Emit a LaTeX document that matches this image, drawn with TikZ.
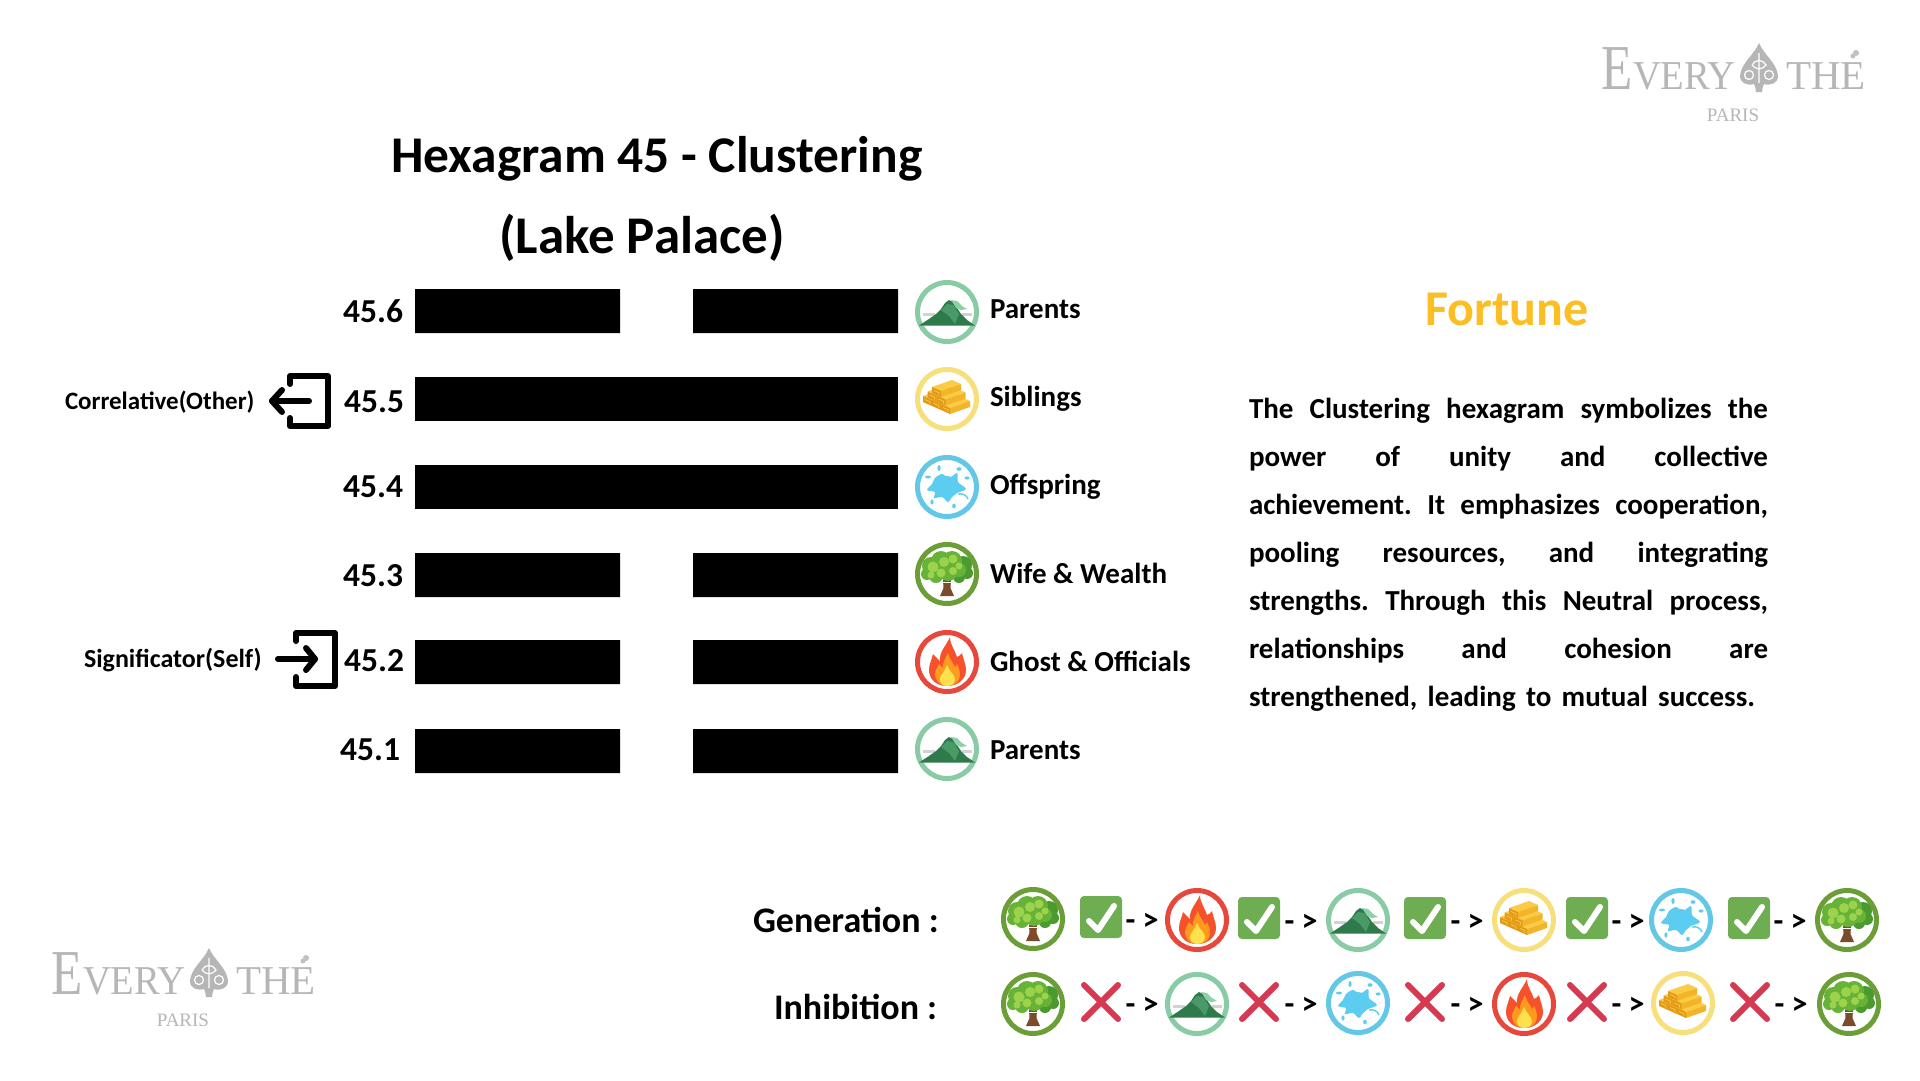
\documentclass[tikz,border=0pt]{standalone}
\usepackage{fontspec}
\setmainfont{Carlito}
\newfontfamily\logofont{Liberation Serif}
\definecolor{ringm}{HTML}{88CBA5}
\definecolor{ringg}{HTML}{F7DF7C}
\definecolor{rings}{HTML}{63C7E6}
\definecolor{ringt}{HTML}{6C9E38}
\definecolor{ringf}{HTML}{E8483C}
\definecolor{mdark}{HTML}{2F7A4B}
\definecolor{mmid}{HTML}{4A9A68}
\definecolor{mlight}{HTML}{8AD1A6}
\definecolor{goldtop}{HTML}{FBCB45}
\definecolor{goldside}{HTML}{F2B52A}
\definecolor{goldend}{HTML}{E39A16}
\definecolor{waterc}{HTML}{5CCDF0}
\definecolor{leafd}{HTML}{4A9A30}
\definecolor{leafm}{HTML}{66B338}
\definecolor{leafl}{HTML}{9CD24C}
\definecolor{bark}{HTML}{7B4B2A}
\definecolor{fireo}{HTML}{F4512C}
\definecolor{firem}{HTML}{FF9A1F}
\definecolor{firey}{HTML}{FFE14D}
\definecolor{okgreen}{HTML}{6FAD53}
\definecolor{nored}{HTML}{D63A52}
\definecolor{fortunec}{HTML}{FBBF24}
\definecolor{logoc}{HTML}{B6B6B6}
\newcommand{\ingot}[2]{%
  \fill[goldtop] (#1,#2-6) -- ++(9,4) -- ++(20,-7) -- ++(-9,-4) -- cycle;
  \fill[goldside] (#1+9,#2+4) -- ++(0,-6) -- ++(20,-7) -- ++(0,6) -- cycle;
  \fill[goldend] (#1,#2) -- ++(9,4) -- ++(0,-6) -- ++(-9,-4) -- cycle;
  \draw[goldtop,line width=.7pt] (#1+2,#2-2.5) -- ++(5,2.2) -- ++(0,2.5);
}
\newcommand{\fs}[1]{\fontsize{#1}{#1}\selectfont}
\tikzset{
  x=1pt,y=-1pt,
  ring/.style={line width=5pt,fill=white},
  bar/.style={fill=black},
  txt/.style={inner sep=0pt,outer sep=0pt,anchor=base west,font=\bfseries},
  txtr/.style={txt,anchor=base east},
  txtc/.style={txt,anchor=base},
  para/.style={txt,font=\bfseries\fs{29}\frenchspacing},
  role/.style={txt,font=\bfseries\fs{29}},
  num/.style={txtr,font=\bfseries\fs{33.5}},
  flow/.style={txtc,font=\bfseries\fs{32}},
  brk/.style={line width=6pt,line join=round,line cap=round},
  pics/mountain/.style={code={
    \draw[ringm,ring] (0,0) circle (29.5);
    \fill[gray!35] (-24,1) rectangle (-12,3.5);
    \fill[gray!35] (15,1) rectangle (25,3.5);
    \fill[mdark] (-28,13.5) -- (-18,7) -- (-11,2) -- (-6,-3) -- (-2,-9) -- (2,-12) -- (6,-10) -- (10,-4) -- (14,2) -- (20,8) -- (28,13.5) -- cycle;
    \fill[mlight] (4,-12) -- (10,-11) -- (15,-6) -- (20,-3) -- (14,-2) -- (9,-4) -- (6,-9) -- cycle;
    \fill[mmid] (-6,-2) -- (0,-8) -- (6,-7) -- (12,2) -- (8,12) -- (2,4) -- cycle;
  }},
  pics/gold/.style={code={
    \draw[ringg,ring] (0,0) circle (29.5);
    \ingot{-24}{3}
    \ingot{-15}{7}
    \ingot{-6}{11}
    \ingot{-19.5}{-1.5}
    \ingot{-10.5}{2.5}
    \ingot{-15}{-6}
  }},
  pics/splash/.style={code={
    \draw[rings,ring] (0,0) circle (29.5);
    \fill[waterc] plot[smooth cycle,tension=0.5] coordinates {(-5,-13) (2,-9) (10,-14) (11,-5) (19,2) (10,6) (5,10) (1,15) (-5,10) (-13,11) (-12,5) (-20,3) (-15,-3) (-12,-9)};
    \fill[waterc] (0,0) circle (11);
    \fill[waterc] (-8,-19) ellipse (1.6 and 3);
    \fill[waterc] (12,-18) ellipse (2.5 and 1.8);
    \fill[waterc] (20,-9) ellipse (2.5 and 1.6);
    \fill[waterc] (-19,-10) ellipse (3 and 1.4);
    \fill[waterc] (-15,15) ellipse (1.6 and 2.6);
    \fill[waterc] (7,19) ellipse (1.8 and 2.4);
    \draw[waterc,line width=1.4pt] (11,7) .. controls (15,6) and (20,8) .. (21,12);
  }},
  pics/tree/.style={code={
    \draw[ringt,ring] (0,0) circle (29.5);
    \fill[bark] (-4,6) -- (4,6) -- (3.5,14) -- (7,22) -- (-7,22) -- (-3.5,14) -- cycle;
    \fill[leafd] (16,-9) circle (9) (20,-1) circle (6) (12,3) circle (6);
    \fill[leafm] (-16,-8) circle (9) (-6,-13) circle (10) (5,-13) circle (10) (-20,0) circle (6) (-11,2) circle (7) (1,-3) circle (10) (12,-4) circle (7);
    \fill[leafl] (-14,-7) circle (5.5) (-3,-12) circle (5) (6,-15) circle (4.5) (-6,-1) circle (4.5) (12,-8) circle (3.5) (-16,1) circle (3.5) (6,-3) circle (4);
    \draw[white,line width=1pt] (-7,8) -- (7,8);
  }},
  pics/fire/.style={code={
    \draw[ringf,ring] (0,0) circle (29.5);
    \fill[fireo] (0,24) .. controls (-12,24) and (-18,16) .. (-18,8) .. controls (-18,2) and (-15,-3) .. (-14,-8) .. controls (-11,-5) and (-9,-3) .. (-7,-1) .. controls (-8,-10) and (-1,-16) .. (3,-25) .. controls (3,-17) and (8,-12) .. (10,-5) .. controls (12,-6) and (14,-7) .. (15,-9) .. controls (16,-3) and (19,2) .. (19,8) .. controls (19,17) and (11,24) .. (0,24) -- cycle;
    \fill[firem] (0,24) .. controls (-8,24) and (-12,18) .. (-12,12) .. controls (-12,8) and (-9,5) .. (-8,2) .. controls (-6,4) and (-5,5) .. (-4,6) .. controls (-5,2) and (-2,-3) .. (1,-9) .. controls (2,-3) and (6,0) .. (8,5) .. controls (9,4) and (10,3) .. (10,2) .. controls (12,6) and (13,9) .. (13,13) .. controls (13,19) and (8,24) .. (0,24) -- cycle;
    \fill[firey] (0,24) .. controls (-5,24) and (-7,20) .. (-7,17) .. controls (-7,13) and (-3,11) .. (0,3) .. controls (2,9) and (8,13) .. (8,17) .. controls (8,21) and (5,24) .. (0,24) -- cycle;
  }},
  pics/okbox/.style={code={
    \fill[okgreen,rounded corners=4pt] (-21,-21) rectangle (21,21);
    \draw[white,line width=6pt,line cap=round,line join=round] (-12,4) -- (-3,13) -- (13,-11);
  }},
  pics/nomark/.style={code={
    \draw[nored,line width=6pt,line cap=round] (-17,-17) -- (17,17) (-17,17) -- (17,-17);
  }},
  pics/brandmark/.style={code={
    \node[txt,text=logoc,font=\logofont\fs{64}] (-e) at (0,0) {\scalebox{.8}[1]{E}};
    \node[txt,text=logoc,font=\logofont\fs{41}] (-v) at (32,0) {\scalebox{.94}[1]{VERY}};
    \node[txt,text=logoc,font=\logofont\fs{41}] (-t) at (185,0) {THE};
    \node[txtc,text=logoc,font=\logofont\fs{19}] (-p) at (132,32) {PARIS};
    \fill[logoc] (158,-46) .. controls (153,-34) and (140,-26) .. (139,-13) .. controls (139,-6) and (146,-3) .. (153,-5) .. controls (154,-3) and (155,0) .. (155,3) -- (161,3) .. controls (161,0) and (162,-3) .. (163,-5) .. controls (170,-3) and (177,-6) .. (177,-13) .. controls (176,-26) and (163,-34) .. (158,-46) -- cycle;
    \draw[white,line width=1.2pt] (158,-36) -- (158,-6) (148,-14) circle (4.5) (168,-14) circle (4.5);
    \draw[white,line width=1.2pt] (151,-24) .. controls (154,-30) and (162,-30) .. (165,-24) .. controls (162,-19) and (154,-19) .. (151,-24);
    \fill[logoc!85] (255,-36) circle (3) (252,-33) circle (2.5);
  }},
}
\begin{document}
\begin{tikzpicture}
\useasboundingbox[fill=white] (0,0) rectangle (1920,1080);
% logos
\pic (logoa) at (1601,89) {brandmark};
\pic (logob) at (51,994) {brandmark};
% title
\node[txtc,font=\bfseries\fs{51.5}] (title) at (657,172) {Hexagram 45 - Clustering};
\node[txtc,font=\bfseries\fs{53}] (subtitle) at (642,253) {(Lake Palace)};
% bars
\fill[bar] (415,289) rectangle (620,333) (693,289) rectangle (898,333);
\fill[bar] (415,377) rectangle (898,421);
\fill[bar] (415,465) rectangle (898,509);
\fill[bar] (415,553) rectangle (620,597) (693,553) rectangle (898,597);
\fill[bar] (415,640) rectangle (620,684) (693,640) rectangle (898,684);
\fill[bar] (415,729) rectangle (620,773) (693,729) rectangle (898,773);
% line numbers
\node[num] (n6) at (403,322) {45.6};
\node[num] (n5) at (404,412) {45.5};
\node[num] (n4) at (403,497) {45.4};
\node[num] (n3) at (403,586) {45.3};
\node[num] (n2) at (404,671) {45.2};
\node[num] (n1) at (400,760) {45.1};
% relation icons and names
\pic at (947,312) {mountain};
\pic at (947,399) {gold};
\pic at (947,487) {splash};
\pic at (947,574) {tree};
\pic at (947,662) {fire};
\pic at (947,749) {mountain};
\node[role] (r6) at (990,318) {Parents};
\node[role] (r5) at (990,406) {Siblings};
\node[role] (r4) at (990,494) {Offspring};
\node[role] (r3) at (990,583) {Wife \& Wealth};
\node[role] (r2) at (990,671) {Ghost \& Officials};
\node[role] (r1) at (990,759) {Parents};
% markers
\node[txt,font=\bfseries\fs{25}] (other) at (65,409) {Correlative(Other)};
\node[txt,font=\bfseries\fs{26}] (self) at (84,667) {Significator(Self)};
\coordinate (o1) at (309,401); \coordinate (o2) at (272,401);
\draw[brk] (290,384) -- (290,376) -- (328,376) -- (328,426) -- (290,426) -- (290,418);
\draw[brk] (o1) -- (o2);
\draw[brk] (282,390) -- (o2) -- (282,412);
\coordinate (s1) at (278,659); \coordinate (s2) at (315,659);
\draw[brk] (296,641) -- (296,633) -- (335,633) -- (335,686) -- (296,686) -- (296,677);
\draw[brk] (s1) -- (s2);
\draw[brk] (306,648) -- (s2) -- (306,670);
% fortune
\node[txtc,text=fortunec,font=\bfseries\fs{50}] (fortune) at (1507,325) {Fortune};
\node[para] (p1) at (1249,418) {\makebox[519pt][s]{The Clustering hexagram symbolizes the}};
\node[para] (p2) at (1249,466) {\makebox[519pt][s]{power of unity and collective}};
\node[para] (p3) at (1249,514) {\makebox[519pt][s]{achievement. It emphasizes cooperation,}};
\node[para] (p4) at (1249,562) {\makebox[519pt][s]{pooling resources, and integrating}};
\node[para] (p5) at (1249,610) {\makebox[519pt][s]{strengths. Through this Neutral process,}};
\node[para] (p6) at (1249,658) {\makebox[519pt][s]{relationships and cohesion are}};
\node[para] (p7) at (1249,706) {\makebox[506pt][s]{strengthened, leading to mutual success.}};
% cycles
\node[txt,font=\bfseries\fs{36}] (gen) at (753,932) {Generation :};
\node[txt,font=\bfseries\fs{36}] (inh) at (774,1019) {Inhibition :};
\pic at (1033,919) {tree};
\pic at (1101,917) {okbox};
\node[flow] (ga) at (1142,930) {- >};
\pic at (1197,920) {fire};
\pic at (1259,918) {okbox};
\node[flow] (gb) at (1301,931) {- >};
\pic at (1358,920) {mountain};
\pic at (1425,918) {okbox};
\node[flow] (gc) at (1467,931) {- >};
\pic at (1524,920) {gold};
\pic at (1587,918) {okbox};
\node[flow] (gd) at (1628,931) {- >};
\pic at (1681,920) {splash};
\pic at (1749,918) {okbox};
\node[flow] (ge) at (1790,931) {- >};
\pic at (1847,920) {tree};
\pic at (1033,1004) {tree};
\pic at (1101,1002) {nomark};
\node[flow] (ia) at (1142,1014) {- >};
\pic at (1197,1004) {mountain};
\pic at (1259,1002) {nomark};
\node[flow] (ib) at (1301,1014) {- >};
\pic at (1358,1003) {splash};
\pic at (1425,1002) {nomark};
\node[flow] (ic) at (1467,1014) {- >};
\pic at (1524,1004) {fire};
\pic at (1587,1002) {nomark};
\node[flow] (id) at (1628,1014) {- >};
\pic at (1683,1003) {gold};
\pic at (1750,1002) {nomark};
\node[flow] (ie) at (1791,1014) {- >};
\pic at (1849,1004) {tree};
\end{tikzpicture}
\end{document}
